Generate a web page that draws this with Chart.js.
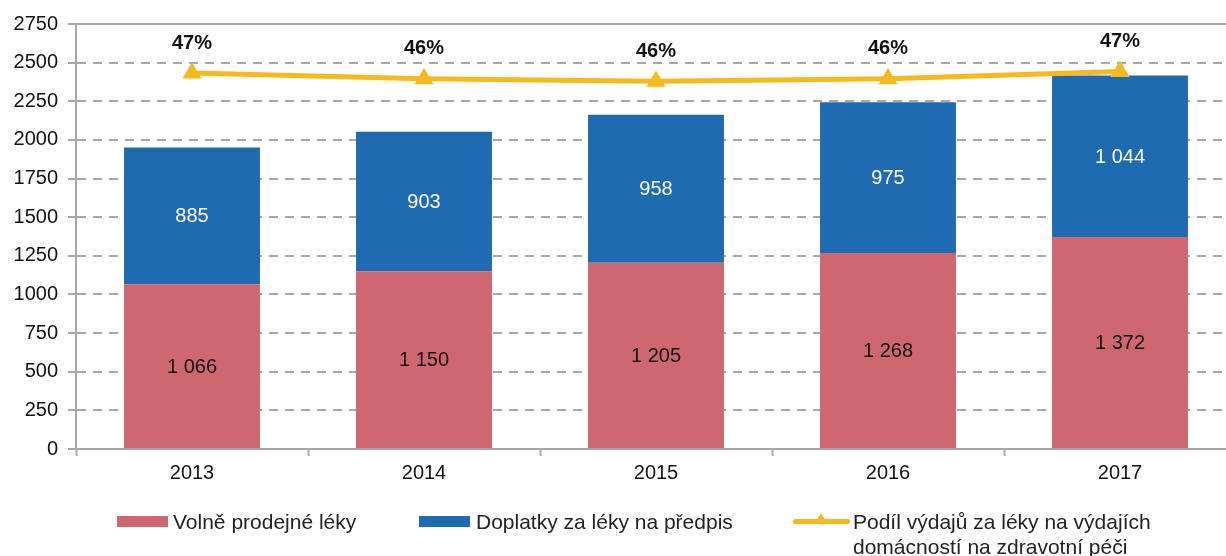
<!DOCTYPE html>
<html>
<head>
<meta charset="utf-8">
<script src="https://cdn.jsdelivr.net/npm/chart.js@4"></script>
<style>
  html, body { margin: 0; padding: 0; background: #fff; overflow: hidden; }
  #wrap { position: absolute; left: 0; top: 0; width: 1247px; height: 556px; }
  .legend { position: absolute; font-family: "Liberation Sans", Arial, sans-serif; font-size: 21px; color: #222; line-height: 25px; }
  .swatch { position: absolute; }
</style>
</head>
<body>
<div id="wrap">
  <canvas id="chart" width="1247" height="556"></canvas>
</div>
<script>
// chart data
const years = ['2013', '2014', '2015', '2016', '2017'];
const otcValues = [1066, 1150, 1205, 1268, 1372];
const copayValues = [885, 903, 958, 975, 1044];
const shareValues = [46.7, 46.0, 45.7, 46.0, 46.9];
const yTicks = [0, 250, 500, 750, 1000, 1250, 1500, 1750, 2000, 2250, 2500, 2750];

const seriesNames = [
    'Volně prodejné léky',
    'Doplatky za léky na předpis',
    'Podíl výdajů za léky na výdajích domácností na zdravotní péči'
];

const RED = '#CE6770';
const BLUE = '#1F6BB1';
const YELLOW = '#F6BA1F';
const GRID = '#A8A8A8';
const FONT = '"Liberation Sans", Arial, sans-serif';

// number with space as thousands separator
function fmt(n) {
    return String(n).replace(/\B(?=(\d{3})+(?!\d))/g, ' ');
}

// draws the values inside bars and above the line points
const valueLabels = {
    id: 'valueLabels',
    afterDatasetsDraw(chart) {
        const ctx = chart.ctx;
        ctx.save();
        ctx.textAlign = 'center';
        ctx.textBaseline = 'middle';
        chart.data.datasets.forEach((ds, i) => {
            const meta = chart.getDatasetMeta(i);
            meta.data.forEach((el, j) => {
                if (ds.type === 'line') {
                    ctx.font = 'bold 20px ' + FONT;
                    ctx.fillStyle = '#111';
                    ctx.fillText(Math.round(ds.data[j]) + '%', el.x, el.y - 30);
                } else {
                    const mid = (el.y + el.base) / 2;
                    ctx.font = '20px ' + FONT;
                    ctx.fillStyle = i === 0 ? '#111' : '#fff';
                    ctx.fillText(fmt(ds.data[j]), el.x, mid + 1);
                }
            });
        });
        ctx.restore();
    }
};

// solid line along the top of the plot
const topBorder = {
    id: 'topBorder',
    beforeDatasetsDraw(chart) {
        const a = chart.chartArea;
        const ctx = chart.ctx;
        ctx.save();
        ctx.strokeStyle = GRID;
        ctx.lineWidth = 2;
        ctx.beginPath();
        ctx.moveTo(a.left, a.top);
        ctx.lineTo(a.right, a.top);
        ctx.stroke();
        ctx.restore();
    }
};

new Chart(document.getElementById('chart'), {
    type: 'bar',
    data: {
        labels: years,
        datasets: [{
            label: seriesNames[0],
            data: otcValues,
            backgroundColor: RED,
            stack: 's',
            order: 2
        }, {
            label: seriesNames[1],
            data: copayValues,
            backgroundColor: BLUE,
            stack: 's',
            order: 2
        }, {
            type: 'line',
            label: seriesNames[2],
            data: shareValues,
            yAxisID: 'y1',
            borderColor: YELLOW,
            backgroundColor: YELLOW,
            borderWidth: 5,
            pointStyle: 'triangle',
            pointRadius: 11,
            pointHoverRadius: 11,
            pointBorderWidth: 0,
            tension: 0,
            order: 1
        }]
    },
    options: {
        responsive: false,
        devicePixelRatio: 1,
        animation: false,
        layout: { padding: { top: 24, bottom: 67, left: 0, right: 0 } },
        datasets: { bar: { barPercentage: 0.586, categoryPercentage: 1 } },
        plugins: {
            legend: { display: false },
            tooltip: { enabled: false }
        },
        scales: {
            x: {
                stacked: true,
                afterFit(scale) { scale.height = 40; },
                grid: {
                    offset: true,
                    drawOnChartArea: false,
                    drawTicks: true,
                    tickLength: 7,
                    tickColor: GRID,
                    tickWidth: 2
                },
                border: { color: GRID, width: 2 },
                ticks: {
                    color: '#111',
                    padding: 5,
                    font: { family: FONT, size: 20 }
                }
            },
            y: {
                stacked: true,
                min: 0,
                max: 2750,
                afterFit(scale) { scale.width = 76; },
                afterBuildTicks(scale) {
                    scale.ticks = yTicks.map(v => ({ value: v }));
                },
                grid: {
                    color: GRID,
                    lineWidth: 2,
                    drawTicks: true,
                    tickLength: 8,
                    tickBorderDash: [],
                    tickColor: GRID
                },
                border: { color: GRID, width: 2, dash: [9, 7] },
                ticks: {
                    color: '#111',
                    padding: 10,
                    font: { family: FONT, size: 20 },
                    callback: v => String(v)
                }
            },
            y1: {
                display: false,
                min: 0,
                max: 52.8
            }
        }
    },
    plugins: [valueLabels, topBorder]
});
</script>
<div class="legend" style="left:0;top:0;width:1247px;height:556px;pointer-events:none;">
  <div class="swatch" style="left:117px;top:516px;width:51px;height:11px;background:#CE6770;"></div>
  <div style="position:absolute;left:173px;top:509px;">Volně prodejné léky</div>
  <div class="swatch" style="left:419px;top:516px;width:51px;height:11px;background:#1F6BB1;"></div>
  <div style="position:absolute;left:476px;top:509px;">Doplatky za léky na předpis</div>
  <div class="swatch" style="left:793px;top:519px;width:57px;height:5px;background:#F6BA1F;border-radius:2px;"></div>
  <div class="swatch" style="left:815px;top:513px;width:0;height:0;border-left:6px solid transparent;border-right:6px solid transparent;border-bottom:10px solid #F6BA1F;"></div>
  <div style="position:absolute;left:853px;top:509px;">Podíl výdajů za léky na výdajích<br>domácností na zdravotní péči</div>
</div>
</body>
</html>
